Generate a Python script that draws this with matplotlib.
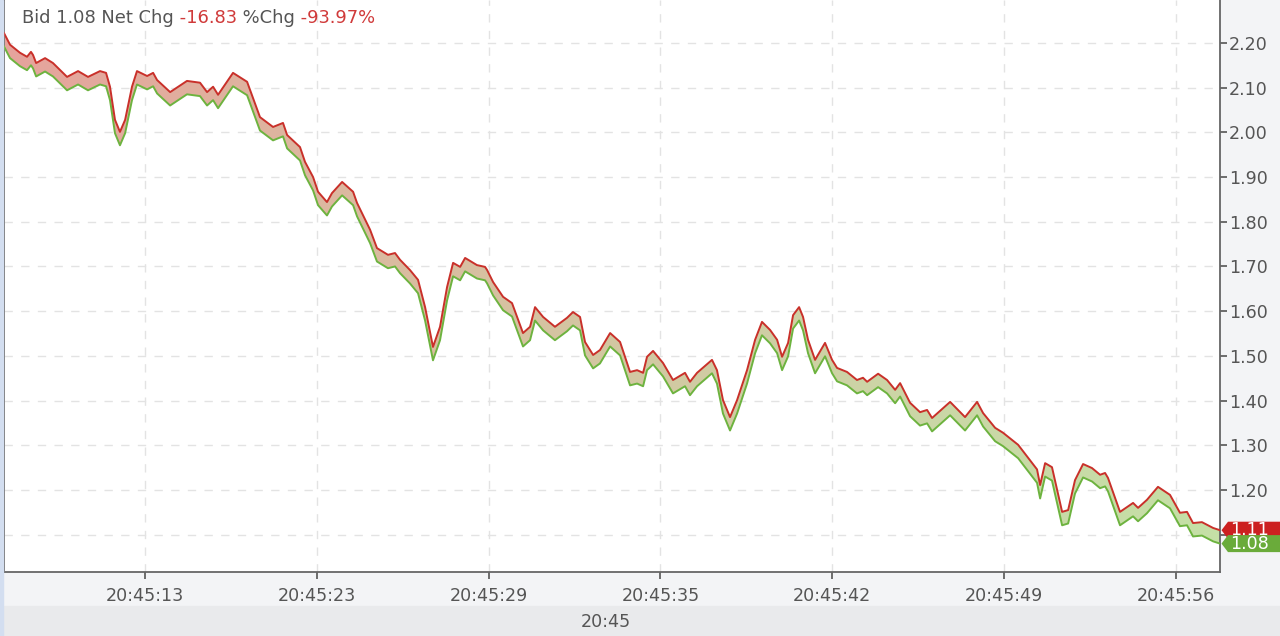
import matplotlib.pyplot as plt
import numpy as np
from matplotlib.colors import LinearSegmentedColormap
from matplotlib.patches import Rectangle, Polygon
from matplotlib.transforms import blended_transform_factory, ScaledTranslation

# tick positions (index based), labels as shown on the chart
tick_pos = [0, 10, 20, 30, 40, 50, 60]
tick_labels = ['20:45:13', '20:45:23', '20:45:29', '20:45:35',
               '20:45:42', '20:45:49', '20:45:56']
y_ticks = [1.10, 1.20, 1.30, 1.40, 1.50, 1.60, 1.70, 1.80, 1.90, 2.00, 2.10, 2.20]

# time position (tick units) of each sample
t = [-8.21, -7.86, -7.28, -6.87, -6.64, -6.52, -6.34, -5.82, -5.36, -4.54,
     -3.90, -3.32, -2.62, -2.27, -2.04, -1.75, -1.46, -1.16, -0.76, -0.47,
     0.12, 0.47, 0.70, 1.46, 2.44, 3.20, 3.61, 3.96, 4.25, 5.12,
     5.94, 6.69, 7.45, 8.03, 8.27, 9.02, 9.31, 9.78, 10.07, 10.59,
     10.88, 11.47, 12.11, 12.34, 13.10, 13.50, 14.14, 14.55, 14.84, 15.42,
     15.89, 16.30, 16.76, 17.17, 17.58, 17.93, 18.34, 18.63, 19.32, 19.79,
     19.91, 20.26, 20.84, 21.36, 22.00, 22.41, 22.70, 23.17, 23.86, 24.56,
     24.91, 25.32, 25.61, 26.08, 26.48, 27.07, 27.65, 28.23, 28.64, 28.99,
     29.22, 29.57, 30.15, 30.73, 31.43, 31.72, 32.13, 33.00, 33.29, 33.64,
     34.05, 34.46, 35.04, 35.51, 35.91, 36.38, 36.79, 37.08, 37.43, 37.72,
     38.07, 38.30, 38.59, 39.00, 39.58, 39.99, 40.28, 40.86, 41.44, 41.79,
     42.03, 42.67, 43.19, 43.66, 43.95, 44.53, 45.11, 45.52, 45.81, 46.86,
     47.73, 48.43, 48.78, 49.48, 49.94, 50.82, 51.92, 52.10, 52.39, 52.79,
     53.38, 53.73, 54.13, 54.60, 55.12, 55.59, 55.88, 56.05, 56.75, 57.51,
     57.80, 58.32, 58.96, 59.66, 60.24, 60.65, 61.00, 61.52, 62.17, 62.57]

ask = [2.222, 2.196, 2.178, 2.169, 2.180, 2.173, 2.155, 2.166, 2.155, 2.124,
       2.137, 2.124, 2.137, 2.133, 2.102, 2.028, 2.001, 2.028, 2.102, 2.137,
       2.126, 2.133, 2.117, 2.090, 2.115, 2.111, 2.090, 2.102, 2.084, 2.133,
       2.113, 2.034, 2.012, 2.021, 1.994, 1.967, 1.934, 1.900, 1.867, 1.844,
       1.864, 1.889, 1.867, 1.842, 1.782, 1.741, 1.726, 1.730, 1.715, 1.692,
       1.670, 1.609, 1.520, 1.565, 1.654, 1.708, 1.699, 1.719, 1.703, 1.699,
       1.692, 1.665, 1.632, 1.618, 1.551, 1.565, 1.609, 1.587, 1.565, 1.585,
       1.598, 1.587, 1.531, 1.502, 1.513, 1.551, 1.531, 1.464, 1.468, 1.462,
       1.498, 1.511, 1.484, 1.446, 1.462, 1.442, 1.462, 1.491, 1.468, 1.401,
       1.363, 1.401, 1.468, 1.536, 1.576, 1.558, 1.536, 1.498, 1.529, 1.591,
       1.609, 1.587, 1.536, 1.491, 1.529, 1.491, 1.473, 1.464, 1.446, 1.451,
       1.442, 1.460, 1.446, 1.424, 1.439, 1.395, 1.374, 1.379, 1.361, 1.397,
       1.363, 1.397, 1.372, 1.339, 1.328, 1.301, 1.246, 1.211, 1.260, 1.251,
       1.151, 1.155, 1.222, 1.258, 1.249, 1.234, 1.238, 1.227, 1.151, 1.171,
       1.160, 1.178, 1.207, 1.189, 1.149, 1.151, 1.126, 1.128, 1.115, 1.110]

bid = [2.192, 2.166, 2.148, 2.139, 2.150, 2.143, 2.125, 2.136, 2.125, 2.094,
       2.107, 2.094, 2.107, 2.103, 2.072, 1.998, 1.971, 1.998, 2.072, 2.107,
       2.096, 2.103, 2.087, 2.060, 2.085, 2.081, 2.060, 2.072, 2.054, 2.103,
       2.083, 2.004, 1.982, 1.991, 1.964, 1.937, 1.904, 1.870, 1.837, 1.814,
       1.834, 1.859, 1.837, 1.812, 1.752, 1.711, 1.696, 1.700, 1.685, 1.662,
       1.640, 1.579, 1.490, 1.535, 1.624, 1.678, 1.669, 1.689, 1.673, 1.669,
       1.662, 1.635, 1.602, 1.588, 1.521, 1.535, 1.579, 1.557, 1.535, 1.555,
       1.568, 1.557, 1.501, 1.472, 1.483, 1.521, 1.501, 1.434, 1.438, 1.432,
       1.468, 1.481, 1.454, 1.416, 1.432, 1.412, 1.432, 1.461, 1.438, 1.371,
       1.333, 1.371, 1.438, 1.506, 1.546, 1.528, 1.506, 1.468, 1.499, 1.561,
       1.579, 1.557, 1.506, 1.461, 1.499, 1.461, 1.443, 1.434, 1.416, 1.421,
       1.412, 1.430, 1.416, 1.394, 1.409, 1.365, 1.344, 1.349, 1.331, 1.367,
       1.333, 1.367, 1.342, 1.309, 1.298, 1.271, 1.216, 1.181, 1.230, 1.221,
       1.121, 1.125, 1.192, 1.228, 1.219, 1.204, 1.208, 1.197, 1.121, 1.141,
       1.130, 1.148, 1.177, 1.159, 1.119, 1.121, 1.096, 1.098, 1.085, 1.080]

last_ask = 1.11
last_bid = 1.08

RED = '#c9302a'
GREEN = '#6db33f'
TXT = '#555555'

W, H = 1280, 636
fig = plt.figure(figsize=(W/100, H/100), dpi=100, facecolor='#f3f4f6')
fig.patches.append(Rectangle((0, 0), 1, 30/H, transform=fig.transFigure,
                             color='#e9eaec', zorder=0))
fig.patches.append(Rectangle((0, 0), 3/W, 1, transform=fig.transFigure,
                             color='#d3def0', zorder=0))
ax = fig.add_axes([4/W, 64/H, 1216/W, 572/H])
ax.set_facecolor('white')

xmin, xmax = -8.21, 62.57
ymin, ymax = 1.0165, 2.296
ax.set_xlim(xmin, xmax)
ax.set_ylim(ymin, ymax)

# gradient band between bid and ask
band = ax.fill_between(t, bid, ask, facecolor='none', edgecolor='none')
cmap = LinearSegmentedColormap.from_list('band', ['#e6a39c', '#ddb7a0', '#d3c7a2',
                                                  '#cbd6a6', '#c5e0a6'])
grad = np.linspace(0, 1, 256).reshape(1, -1)
img = ax.imshow(grad, cmap=cmap, aspect='auto', extent=[xmin, xmax, ymin, ymax],
                zorder=2, interpolation='bilinear')
img.set_clip_path(band.get_paths()[0], transform=ax.transData)

ax.plot(t, bid, color=GREEN, lw=1.4, zorder=3)
ax.plot(t, ask, color=RED, lw=1.4, zorder=4)

ax.set_xticks(tick_pos)
ax.set_xticklabels(tick_labels)
ax.set_yticks(y_ticks)
# the 1.10 label sits under the price tags
ax.set_yticklabels(['' if v < 1.15 else '%.2f' % v for v in y_ticks])
ax.yaxis.tick_right()
ax.tick_params(axis='both', colors='#555555', labelcolor=TXT, labelsize=12.6,
               length=5, width=1.2, direction='out')
ax.tick_params(axis='x', pad=6)
ax.tick_params(axis='y', pad=1.5)
ax.grid(True, color='#e3e3e3', linestyle=(0, (6, 6)), linewidth=1)
ax.set_axisbelow(True)
for side in ['left', 'right', 'bottom']:
    ax.spines[side].set_color('#666666')
    ax.spines[side].set_linewidth(1.3)
ax.spines['top'].set_visible(False)

# price tags on the right axis
tr = blended_transform_factory(ax.transAxes, ax.transData)
for val, col, z in [(last_ask, '#cc2020', 10), (last_bid, '#6aab3a', 11)]:
    tag_tr = fig.dpi_scale_trans + ScaledTranslation(1.0, val, tr)
    verts = [(0.015, 0), (0.08, 0.085), (0.62, 0.085), (0.62, -0.085), (0.08, -0.085)]
    ax.add_patch(Polygon(verts, closed=True, transform=tag_tr, fc=col, ec='none',
                         clip_on=False, zorder=z))
    ax.text(1.0 + 10/1216, val, '%.2f' % val, transform=tr, color='white',
            fontsize=12.6, va='center', ha='left', clip_on=False, zorder=z)

# header text
parts = [('Bid %.2f Net Chg' % last_bid, TXT), (' -16.83', '#d03a3a'),
         (' %Chg', TXT), (' -93.97%', '#d03a3a')]
prev = ax.text(18/1216, 1 - 18/572, parts[0][0], transform=ax.transAxes,
               color=parts[0][1], fontsize=12.9, va='center', ha='left', zorder=12)
for s, c in parts[1:]:
    prev = ax.annotate(s, xy=(1, 0), xycoords=prev, va='bottom', ha='left',
                       color=c, fontsize=12.9, zorder=12)

fig.text(606/W, 14/H, '20:45', color=TXT, fontsize=12.6, ha='center', va='center')

fig.savefig('out.png', dpi=100, facecolor=fig.get_facecolor())
